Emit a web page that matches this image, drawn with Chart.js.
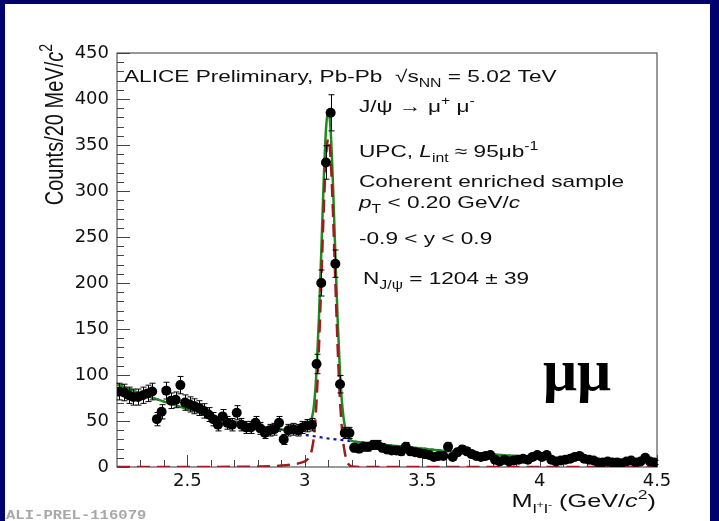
<!DOCTYPE html>
<html>
<head>
<meta charset="utf-8">
<script src="https://cdn.jsdelivr.net/npm/chart.js@4.4.1/dist/chart.umd.min.js"></script>
<style>
  html, body { margin: 0; padding: 0; background: #00006e; }
  #c { display: block; }
</style>
</head>
<body>
<canvas id="c" width="719" height="521"></canvas>
<script>
// dimuon invariant mass, 20 MeV bins (bin centres, GeV/c^2)
const massBins = [
  2.21, 2.23, 2.25, 2.27, 2.29, 2.31, 2.33, 2.35, 2.37, 2.39,
  2.41, 2.43, 2.45, 2.47, 2.49, 2.51, 2.53, 2.55, 2.57, 2.59,
  2.61, 2.63, 2.65, 2.67, 2.69, 2.71, 2.73, 2.75, 2.77, 2.79,
  2.81, 2.83, 2.85, 2.87, 2.89, 2.91, 2.93, 2.95, 2.97, 2.99,
  3.01, 3.03, 3.05, 3.07, 3.09, 3.11, 3.13, 3.15, 3.17, 3.19,
  3.21, 3.23, 3.25, 3.27, 3.29, 3.31, 3.33, 3.35, 3.37, 3.39,
  3.41, 3.43, 3.45, 3.47, 3.49, 3.51, 3.53, 3.55, 3.57, 3.59,
  3.61, 3.63, 3.65, 3.67, 3.69, 3.71, 3.73, 3.75, 3.77, 3.79,
  3.81, 3.83, 3.85, 3.87, 3.89, 3.91, 3.93, 3.95, 3.97, 3.99,
  4.01, 4.03, 4.05, 4.07, 4.09, 4.11, 4.13, 4.15, 4.17, 4.19,
  4.21, 4.23, 4.25, 4.27, 4.29, 4.31, 4.33, 4.35, 4.37, 4.39,
  4.41, 4.43, 4.45, 4.47, 4.49
];
const counts = [
  82, 81, 78, 76, 76, 78, 80, 82, 52, 60,
  83, 72, 73, 89, 70, 68, 66, 64, 61, 57,
  52, 46, 55, 48, 46, 59, 46, 43, 43, 48,
  42, 37, 40, 41, 48, 30, 40, 41, 40, 43,
  45, 46, 112, 200, 331, 385, 221, 90, 37, 37,
  21, 20, 22, 22, 24, 24, 21, 19, 18, 18,
  17, 22, 17, 16, 15, 14, 13, 11, 12, 12,
  22, 11, 16, 19, 17, 14, 12, 11, 12, 13,
  8, 6, 8, 6, 7, 8, 9, 8, 11, 13,
  11, 13, 8, 6, 7, 8, 9, 11, 12, 9,
  8, 7, 5, 5, 6, 5, 5, 4, 6, 7,
  5, 6, 10, 6, 5
];
// statistical (Poisson) uncertainty of each bin
const errors = counts.map(n => Math.sqrt(n));

// fit curves
const fitMass = [
  2.2, 2.3, 2.4, 2.5, 2.6, 2.7, 2.8, 2.9, 2.95,
  3.00, 3.01, 3.02, 3.03, 3.04, 3.05, 3.06, 3.07, 3.08, 3.09,
  3.10, 3.11, 3.12, 3.13, 3.14, 3.15, 3.16, 3.17, 3.18, 3.19,
  3.20, 3.25, 3.3, 3.4, 3.5, 3.6, 3.8, 4.0, 4.2, 4.5
];
const fitBackground = [
  90, 80, 71, 63, 56, 49, 44, 39, 37,
  35, 34.6, 34.2, 33.8, 33.4, 33, 32.6, 32.2, 31.8, 31.4,
  31, 30.7, 30.4, 30.1, 29.8, 29.5, 29.2, 28.9, 28.6, 28.3,
  28, 26.5, 25, 22.5, 20, 17.5, 13.5, 10.5, 8, 5.5
];
const fitSignal = [
  0, 0, 0, 0, 0, 0.2, 0.5, 1.5, 3,
  6, 8, 11, 19, 36, 72, 129, 201, 276, 335,
  357, 335, 276, 201, 129, 72, 36, 16, 6, 2,
  0.5, 0, 0, 0, 0, 0, 0, 0, 0, 0
];
const fitTotal = [
  90, 80, 71, 63, 56, 49.2, 44.5, 40.5, 40,
  41, 42.6, 45.2, 52.8, 69.4, 105, 161.6, 233.2, 307.8, 366.4,
  388, 365.7, 306.4, 231.1, 158.8, 101.5, 65.2, 44.9, 34.6, 30.3,
  28.5, 26.5, 25, 22.5, 20, 17.5, 13.5, 10.5, 8, 5.5
];

const xTickValues = [2.5, 3, 3.5, 4, 4.5];
const yTickValues = [0, 50, 100, 150, 200, 250, 300, 350, 400, 450];

const SANS = '"Liberation Sans", Arial, Helvetica, sans-serif';
const STRETCH = 1.33;

function toPoints(xs, ys) {
  return xs.map((x, i) => ({ x: x, y: ys[i] }));
}

// draws text made of parts: [text, style] where style may hold i, sub, sup, ssup
function drawRich(ctx, x, y, parts, size, opts) {
  opts = opts || {};
  const sx = opts.sx || 1, sy = opts.sy || 1;
  ctx.save();
  ctx.translate(x, y);
  if (opts.rotate) ctx.rotate(opts.rotate);
  ctx.scale(sx, sy);
  ctx.textBaseline = 'alphabetic';
  ctx.textAlign = 'left';
  ctx.fillStyle = opts.color || '#111';
  const fam = opts.family || SANS;
  const pieces = parts.map(p => {
    const st = p[1] || '';
    let fs = size, dy = 0;
    if (st.includes('sub')) { fs = size * 0.7; dy = size * 0.3; }
    if (st.includes('sup')) { fs = size * 0.7; dy = -size * 0.42; }
    if (st.includes('ssup')) { fs = size * 0.5; dy = size * 0.05; }
    const font = (st.includes('i') && !st.includes('sub') ? 'italic ' : '') +
      (opts.bold ? 'bold ' : '') + fs + 'px ' + fam;
    ctx.font = font;
    return { t: p[0], font: font, dy: dy, w: ctx.measureText(p[0]).width };
  });
  const total = pieces.reduce((a, p) => a + p.w, 0);
  let cx = opts.align === 'right' ? -total : 0;
  pieces.forEach(p => {
    ctx.font = p.font;
    ctx.fillText(p.t, cx, p.dy);
    cx += p.w;
  });
  ctx.restore();
}

const errorBars = {
  id: 'errorBars',
  beforeDatasetDraw(chart, args) {
    if (args.index !== 0) return;
    const { ctx } = chart;
    const xs = chart.scales.x, ys = chart.scales.y;
    ctx.save();
    ctx.strokeStyle = '#000';
    ctx.lineWidth = 1;
    ctx.beginPath();
    counts.forEach((n, i) => {
      const px = Math.round(xs.getPixelForValue(massBins[i])) + 0.5;
      const top = ys.getPixelForValue(n + errors[i]);
      const bot = ys.getPixelForValue(Math.max(n - errors[i], 0));
      ctx.moveTo(px, top); ctx.lineTo(px, bot);
      ctx.moveTo(px - 3, top); ctx.lineTo(px + 3, top);
      ctx.moveTo(px - 3, bot); ctx.lineTo(px + 3, bot);
    });
    ctx.stroke();
    ctx.restore();
  }
};

const frame = {
  id: 'frame',
  beforeDraw(chart) {
    const { ctx } = chart;
    ctx.save();
    ctx.fillStyle = '#00006e';
    ctx.fillRect(0, 0, chart.width, chart.height);
    ctx.fillStyle = '#ffffff';
    ctx.fillRect(5, 4, 705, chart.height - 4);
    ctx.restore();
  },
  beforeDatasetsDraw(chart) {
    const { ctx, chartArea: a } = chart;
    const xs = chart.scales.x, ys = chart.scales.y;
    ctx.save();
    ctx.strokeStyle = '#555';
    ctx.lineWidth = 1.2;
    ctx.strokeRect(a.left, a.top, a.right - a.left, a.bottom - a.top);
    ctx.lineWidth = 1;
    ctx.strokeStyle = '#444';
    ctx.beginPath();
    // y ticks pointing into the frame
    for (let v = 0; v <= 450; v += 10) {
      const py = Math.round(ys.getPixelForValue(v)) + 0.5;
      const len = v % 50 === 0 ? 13 : 7;
      ctx.moveTo(a.left, py); ctx.lineTo(a.left + len, py);
    }
    // x ticks pointing up
    for (let k = 23; k <= 45; k++) {
      const px = Math.round(xs.getPixelForValue(k / 10)) + 0.5;
      const len = k % 5 === 0 ? 12 : 7;
      ctx.moveTo(px, a.bottom); ctx.lineTo(px, a.bottom - len);
    }
    ctx.stroke();
    ctx.restore();
  },
  afterDraw(chart) {
    const { ctx } = chart;
    const st = { sx: STRETCH };
    drawRich(ctx, 124, 82, [['ALICE Preliminary, Pb-Pb  '], ['\u221A'], ['s'], ['NN', 'sub'], [' = 5.02 TeV']], 17, st);
    drawRich(ctx, 359, 112, [['J/\u03C8 \u2192 \u03BC'], ['+', 'sup'], [' \u03BC'], ['-', 'sup']], 17, st);
    drawRich(ctx, 359, 157, [['UPC, '], ['L', 'i'], ['int', 'sub'], [' \u2248 95\u03BCb'], ['-1', 'sup']], 17, st);
    drawRich(ctx, 359, 187, [['Coherent enriched sample']], 17, st);
    drawRich(ctx, 359, 208, [['p', 'i'], ['T', 'sub'], [' < 0.20 GeV/'], ['c', 'i']], 17, st);
    drawRich(ctx, 359, 244, [['-0.9 < y < 0.9']], 17, st);
    drawRich(ctx, 363, 284, [['N'], ['J/\u03C8', 'sub'], [' = 1204 \u00B1 39']], 17, st);

    // axis titles
    drawRich(ctx, 656, 507, [['M'], ['l', 'sub'], ['+', 'ssup'], ['l', 'sub'], ['-', 'ssup'], [' (GeV/'], ['c', 'i'], ['2', 'sup'], [')']], 19, { sx: STRETCH, align: 'right' });
    drawRich(ctx, 63, 44, [['Counts/20 MeV/'], ['c', 'i'], ['2', 'sup']], 20, { rotate: -Math.PI / 2, sy: STRETCH, align: 'right' });

    drawRich(ctx, 543, 390, [['\u03BC\u03BC']], 60, { family: '"Liberation Serif", "Times New Roman", serif', bold: true, color: '#000' });
    drawRich(ctx, 6, 519, [['ALI-PREL-116079']], 12, { family: '"Liberation Mono", "DejaVu Sans Mono", monospace', bold: true, color: '#a8a8a8', sx: 1.3 });
  }
};

const tickFont = { family: '"DejaVu Sans", sans-serif', size: 18 };

new Chart(document.getElementById('c'), {
  type: 'scatter',
  data: {
    datasets: [
      {
        label: 'Data',
        data: toPoints(massBins, counts),
        pointRadius: 5,
        pointHoverRadius: 5,
        backgroundColor: '#000',
        borderWidth: 0,
        order: 0
      },
      {
        label: 'J/psi signal',
        data: toPoints(fitMass, fitSignal),
        showLine: true,
        pointRadius: 0,
        borderColor: '#9b1d1d',
        borderWidth: 2.5,
        borderDash: [13, 7],
        cubicInterpolationMode: 'monotone',
        order: 1
      },
      {
        label: 'Total fit',
        data: toPoints(fitMass, fitTotal),
        showLine: true,
        pointRadius: 0,
        borderColor: '#1f8a1f',
        borderWidth: 2.5,
        cubicInterpolationMode: 'monotone',
        order: 2
      },
      {
        label: 'Background',
        data: toPoints(fitMass, fitBackground),
        showLine: true,
        pointRadius: 0,
        borderColor: '#1212a0',
        borderWidth: 2.2,
        borderDash: [3, 4],
        cubicInterpolationMode: 'monotone',
        order: 3
      }
    ]
  },
  options: {
    responsive: false,
    animation: false,
    devicePixelRatio: 1,
    layout: { padding: { left: 0, top: 53, right: 62, bottom: 0 } },
    plugins: {
      legend: { display: false },
      tooltip: { enabled: false }
    },
    scales: {
      x: {
        type: 'linear',
        min: 2.2,
        max: 4.5,
        grid: { display: false, drawTicks: false },
        border: { display: false },
        afterBuildTicks: (s) => { s.ticks = xTickValues.map(v => ({ value: v })); },
        afterFit: (s) => { s.height = 54; },
        ticks: {
          font: tickFont, color: '#111', padding: 4, maxRotation: 0, autoSkip: false,
          callback: (v) => String(v)
        }
      },
      y: {
        min: 0,
        max: 450,
        grid: { display: false, drawTicks: false },
        border: { display: false },
        afterBuildTicks: (s) => { s.ticks = yTickValues.map(v => ({ value: v })); },
        afterFit: (s) => { s.width = 117; },
        ticks: { font: tickFont, color: '#111', padding: 8, callback: (v) => String(v) }
      }
    }
  },
  plugins: [frame, errorBars]
});
</script>
</body>
</html>
